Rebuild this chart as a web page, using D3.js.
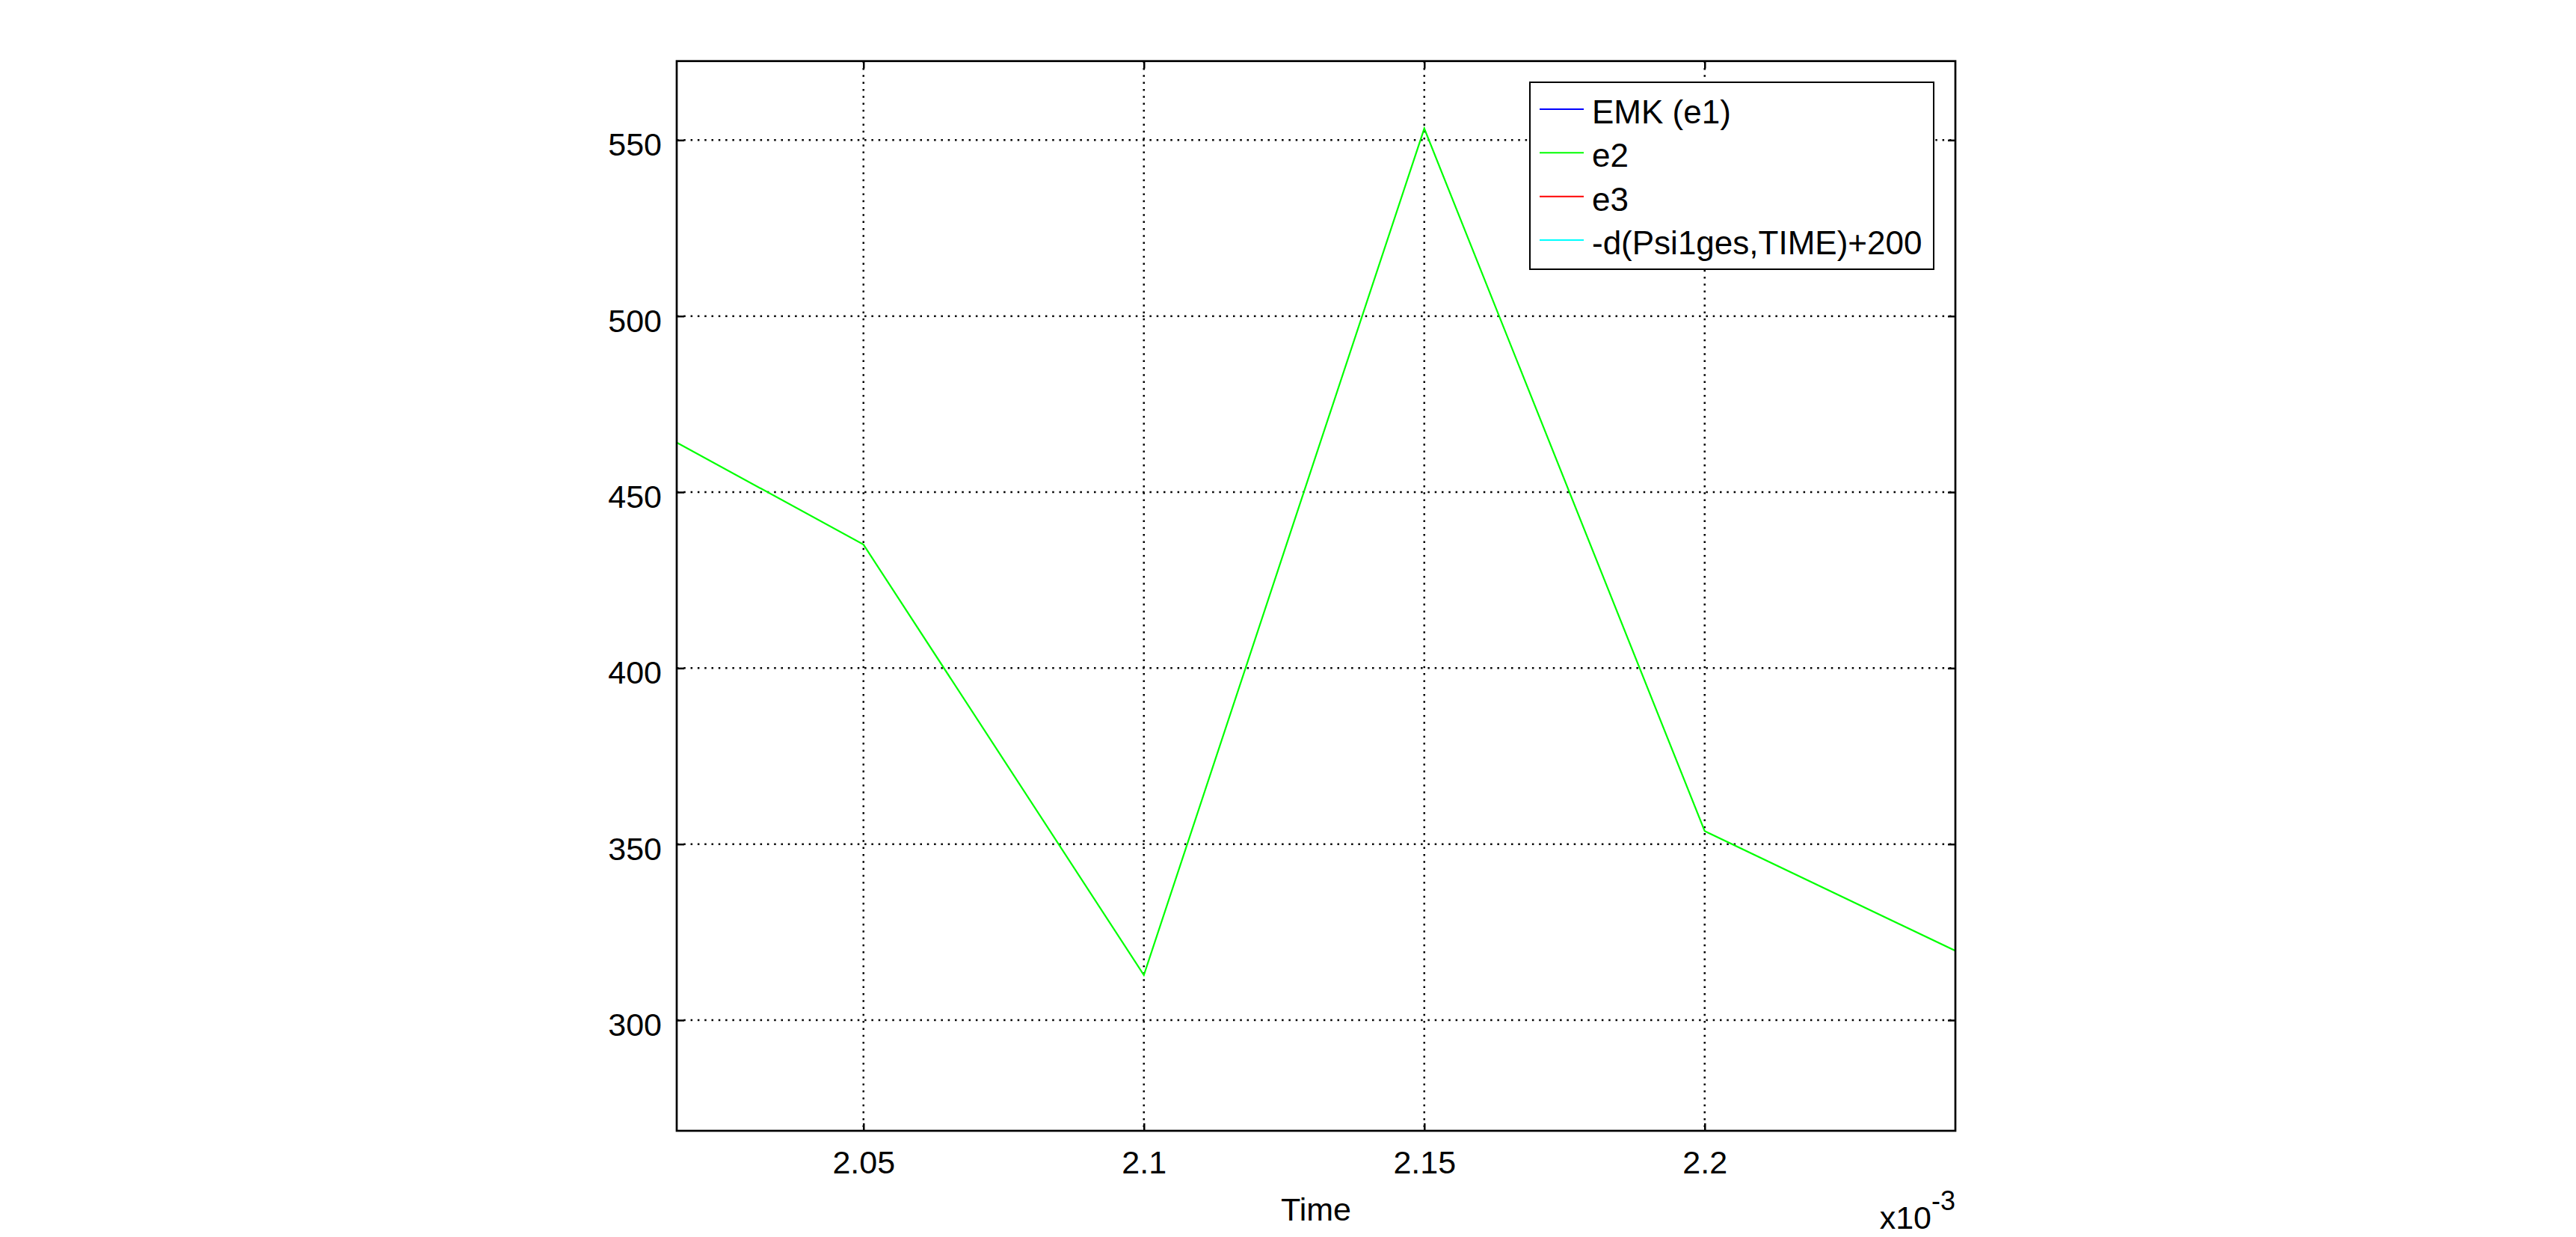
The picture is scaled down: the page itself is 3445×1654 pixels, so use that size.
<!DOCTYPE html>
<html>
<head>
<meta charset="utf-8">
<script src="https://cdn.jsdelivr.net/npm/d3@7"></script>
<style>
html,body{margin:0;padding:0;background:#fff;}
svg{display:block;}
text{font-family:"Liberation Sans",Arial,sans-serif;fill:#000;}
</style>
</head>
<body>
<script>
// ---- data (time in units of 1e-3 s) ----
const timeValues = [2.0167, 2.05, 2.1, 2.15, 2.2, 2.2447];
const e2Values   = [464.1, 435.1, 312.8, 553.3, 353.7, 319.7];
const xTicks = [2.05, 2.1, 2.15, 2.2];
const xTickLabels = ["2.05", "2.1", "2.15", "2.2"];
const yTicks = [300, 350, 400, 450, 500, 550];
const xDomain = [2.0167, 2.2447];
const yDomain = [268.56, 572.44];
const legendNames = ["EMK (e1)", "e2", "e3", "-d(Psi1ges,TIME)+200"];
const legendColors = ["#0000ff", "#00ff00", "#ff0000", "#00ffff"];

const W = 3445, H = 1654;
const plot = {left: 905, right: 2615, top: 81.7, bottom: 1512};

const svg = d3.select("body").append("svg").attr("width", W).attr("height", H);
svg.append("rect").attr("width", W).attr("height", H).attr("fill", "#fff");

const x = d3.scaleLinear().domain(xDomain).range([plot.left, plot.right]);
const y = d3.scaleLinear().domain(yDomain).range([plot.bottom, plot.top]);

// clip
svg.append("defs").append("clipPath").attr("id", "clip")
  .append("rect").attr("x", plot.left).attr("y", plot.top)
  .attr("width", plot.right - plot.left).attr("height", plot.bottom - plot.top);

// grid
const grid = svg.append("g");
grid.selectAll("line.vg").data(xTicks).join("line")
  .attr("x1", d => x(d)).attr("x2", d => x(d))
  .attr("y1", plot.top).attr("y2", plot.bottom)
  .attr("stroke", "#000").attr("stroke-width", 2.5).attr("stroke-dasharray", "2.5 6.8");
grid.selectAll("line.hg").data(yTicks).join("line")
  .attr("y1", d => y(d)).attr("y2", d => y(d))
  .attr("x1", plot.left).attr("x2", plot.right)
  .attr("stroke", "#000").attr("stroke-width", 2.5).attr("stroke-dasharray", "2.5 6.8");

// axes with inward ticks
const tickLen = 10;
const axBottom = svg.append("g").attr("transform", `translate(0,${plot.bottom})`)
  .call(d3.axisBottom(x).tickValues(xTicks).tickSizeInner(-tickLen).tickSizeOuter(0)
        .tickPadding(26).tickFormat((d, i) => xTickLabels[i]));
const axTop = svg.append("g").attr("transform", `translate(0,${plot.top})`)
  .call(d3.axisTop(x).tickValues(xTicks).tickSizeInner(-tickLen).tickSizeOuter(0).tickFormat(""));
const axLeft = svg.append("g").attr("transform", `translate(${plot.left},0)`)
  .call(d3.axisLeft(y).tickValues(yTicks).tickSizeInner(-tickLen).tickSizeOuter(0)
        .tickPadding(20).tickFormat(d3.format("d")));
const axRight = svg.append("g").attr("transform", `translate(${plot.right},0)`)
  .call(d3.axisRight(y).tickValues(yTicks).tickSizeInner(-tickLen).tickSizeOuter(0).tickFormat(""));
[axBottom, axTop, axLeft, axRight].forEach(g => {
  g.select(".domain").remove();
  g.selectAll(".tick line").attr("stroke", "#000").attr("stroke-width", 2.5);
  g.selectAll("text").attr("font-family", "Liberation Sans, Arial, sans-serif")
    .attr("font-size", 43).attr("fill", "#000");
});
axBottom.selectAll("text").attr("dy", "0.71em");
axLeft.selectAll("text").attr("dy", "0.48em");

// data line
const line = d3.line().x(d => x(d[0])).y(d => y(d[1]));
const e2Data = timeValues.map((t, i) => [t, e2Values[i]]);
svg.append("path").datum(e2Data).attr("clip-path", "url(#clip)")
  .attr("d", line).attr("fill", "none").attr("stroke", "#00ff00").attr("stroke-width", 2.2);

// frame
svg.append("rect").attr("x", plot.left).attr("y", plot.top)
  .attr("width", plot.right - plot.left).attr("height", plot.bottom - plot.top)
  .attr("fill", "none").attr("stroke", "#000").attr("stroke-width", 2.7);

// legend
const lg = svg.append("g");
lg.append("rect").attr("x", 2046).attr("y", 110).attr("width", 2586 - 2046).attr("height", 250)
  .attr("fill", "#fff").attr("stroke", "#000").attr("stroke-width", 2);
const rowY = d3.scaleLinear().domain([0, 3]).range([146, 321]);
legendNames.forEach((name, i) => {
  lg.append("line").attr("x1", 2059).attr("x2", 2118)
    .attr("y1", rowY(i)).attr("y2", rowY(i))
    .attr("stroke", legendColors[i]).attr("stroke-width", 2);
  lg.append("text").attr("x", 2129).attr("y", rowY(i) + 19)
    .attr("font-size", 44).text(name);
});

// axis labels
svg.append("text").attr("x", (plot.left + plot.right) / 2).attr("y", 1632)
  .attr("text-anchor", "middle").attr("font-size", 43).text("Time");
const sci = svg.append("text").attr("x", plot.right).attr("y", 1643)
  .attr("text-anchor", "end").attr("font-size", 43);
sci.append("tspan").text("x10");
sci.append("tspan").attr("font-size", 36).attr("dy", -25).text("-3");
</script>
</body>
</html>
